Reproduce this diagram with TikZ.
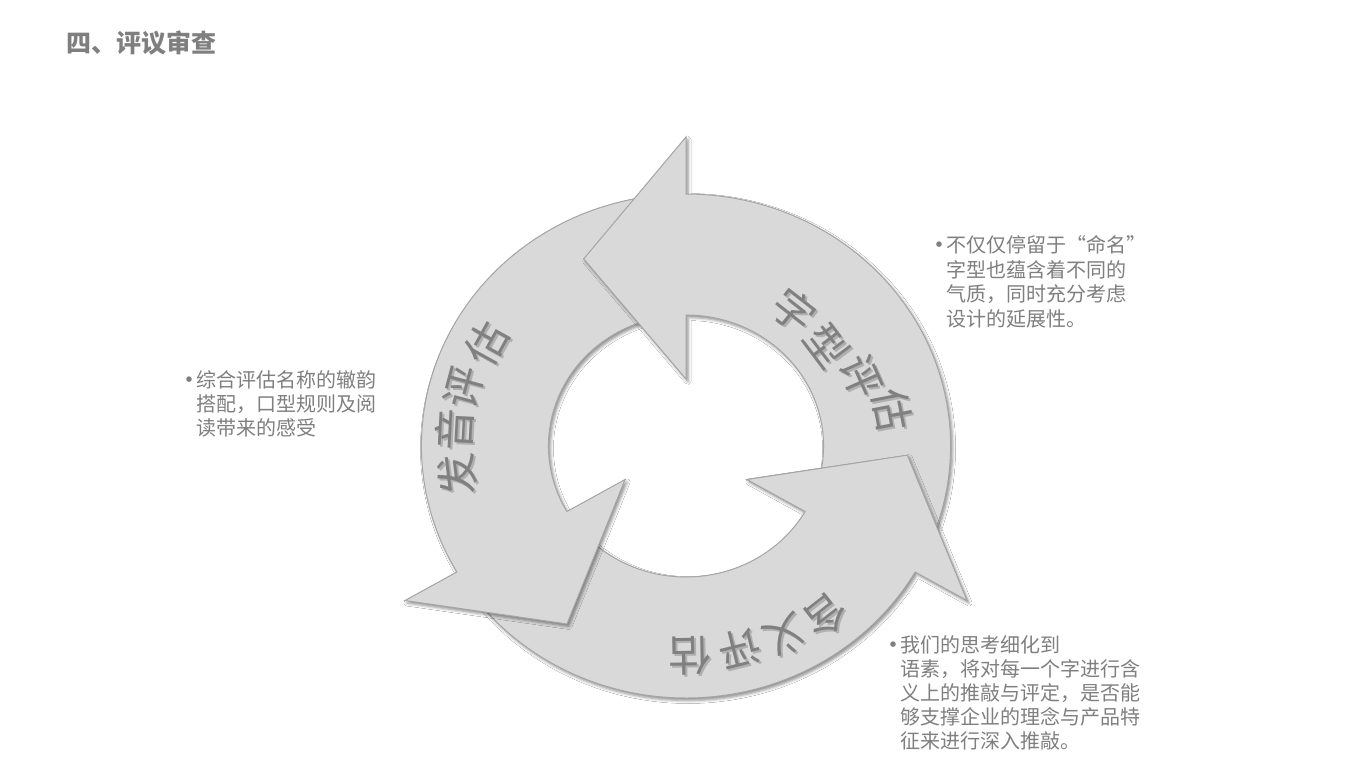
\documentclass[tikz,border=0pt]{standalone}
\usepackage{fontspec}
\usepackage{graphicx}
\newfontfamily\cjk{Noto Sans CJK SC}
\usetikzlibrary{shadows.blur}
\definecolor{ringfill}{HTML}{D9D9D9}
\definecolor{ringline}{HTML}{A5A5A5}
\definecolor{tgray}{HTML}{7F7F7F}
\definecolor{rgray}{HTML}{808080}
\definecolor{shadenear}{HTML}{B0B0B0}
% #1 = angle of the head base, #2 = angle of the tail
\newcommand\cyclearrow[2]{(#2:252) arc[start angle=#2, end angle=#1, radius=252] -- (#1:309) -- ({#1+27.5}:211) -- (#1:67) -- (#1:131) arc[start angle=#1, end angle=#2, radius=131] -- cycle}
\tikzset{
  ringshadow/.style={blur shadow={shadow xshift=2pt, shadow yshift=-2.5pt, shadow blur radius=3pt, shadow opacity=45}},
  cyclearrowstyle/.style={fill=ringfill, draw=ringline, line width=1pt, ringshadow},
  cyclearrowplain/.style={fill=ringfill, draw=ringline, line width=1pt},
  ringtext/.style={font=\cjk\fontsize{42}{44}\selectfont, text=rgray, inner sep=0pt},
  blockline/.style={font=\cjk\fontsize{20}{24}\selectfont, text=tgray, anchor=base west, inner sep=0pt},
  titletext/.style={font=\cjk\bfseries\fontsize{25}{30}\selectfont, text=tgray, anchor=base west, inner sep=0pt}
}
\newcommand\blt{\llap{\raisebox{-2pt}{\scalebox{1.3}{•}}\kern-6pt}}
% #1 name, #2 x, #3 y (pixels from top), #4 rotation, #5 character
\newcommand\ringchar[5]{%
  \pgfmathsetmacro\shxa{2*cos(#4)-2*sin(#4)}%
  \pgfmathsetmacro\shya{-2*sin(#4)-2*cos(#4)}%
  \node[ringtext, rotate=#4] (#1) at (#2,-#3)
    {\rlap{\kern\shxa pt\raisebox{\shya pt}{\color{shadenear}#5}}#5};}
\begin{document}
\begin{tikzpicture}[x=1pt, y=1pt]
\fill[white] (0,0) rectangle (1366,-768);
\useasboundingbox (0,0) rectangle (1366,-768);

\node[titletext] (title) at (66,-52.5) {四、评议审查};

\begin{scope}[shift={(686,-446)}, xscale=1.05]
  \draw[cyclearrowstyle] \cyclearrow{-30}{-142};
  \draw[cyclearrowstyle] \cyclearrow{210}{98};
  \draw[cyclearrowstyle] \cyclearrow{90}{-22};
  % shadow of the lower right head falling on the right band
  \begin{scope}
    \clip \cyclearrow{90}{-22};
    \path[ringshadow] \cyclearrow{-30}{-142};
  \end{scope}
  % the lower right head lies over the tail of the right band
  \begin{scope}
    \clip (-30.6:20) -- (-30.6:420) -- (12:420) -- (12:20) -- cycle;
    \draw[cyclearrowplain] \cyclearrow{-30}{-142};
  \end{scope}
\end{scope}

% 字型评估
\ringchar{za}{794}{311}{-38}{字}
\ringchar{zb}{828}{345}{-53}{型}
\ringchar{zc}{861}{376}{-66}{评}
\ringchar{zd}{893}{410}{-79}{估}
% 发音评估
\ringchar{fa}{458}{474}{97}{发}
\ringchar{fb}{456}{430}{87}{音}
\ringchar{fc}{465}{388}{75}{评}
\ringchar{fd}{488}{344}{61}{估}
% 含义评估
\ringchar{ha}{827}{617}{-142}{含}
\ringchar{hb}{786}{637}{-154}{义}
\ringchar{hc}{740}{650}{-166}{评}
\ringchar{hd}{690}{657}{-179}{估}

% right text block
\node[blockline] (r1) at (946,-252.6) {\blt 不仅仅停留于“命名”};
\node[blockline] (r2) at (946,-277) {字型也蕴含着不同的};
\node[blockline] (r3) at (946,-301.5) {气质，同时充分考虑};
\node[blockline] (r4) at (946,-326) {设计的延展性。};

% left text block
\node[blockline] (l1) at (196,-387.6) {\blt 综合评估名称的辙韵};
\node[blockline] (l2) at (196,-411.6) {搭配，口型规则及阅};
\node[blockline] (l3) at (196,-435.6) {读带来的感受};

% bottom text block
\node[blockline] (b1) at (900,-652.6) {\blt 我们的思考细化到};
\node[blockline] (b2) at (900,-676.6) {语素，将对每一个字进行含};
\node[blockline] (b3) at (900,-700.6) {义上的推敲与评定，是否能};
\node[blockline] (b4) at (900,-724.6) {够支撑企业的理念与产品特};
\node[blockline] (b5) at (900,-748.6) {征来进行深入推敲。};
\end{tikzpicture}
\end{document}
